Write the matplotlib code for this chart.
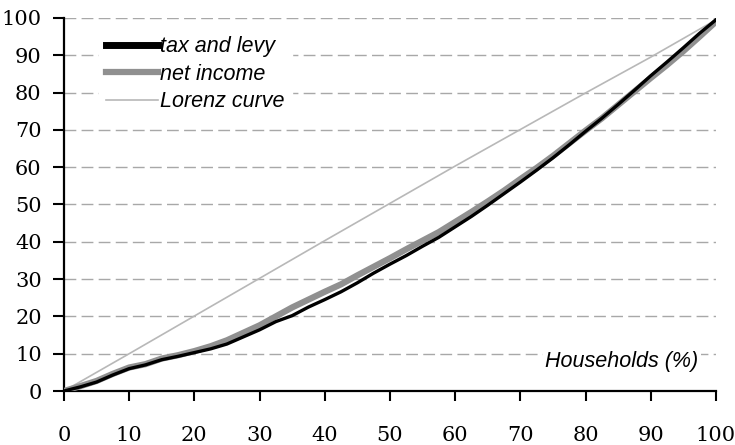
import numpy as np
import matplotlib.pyplot as plt

# households share (%)
x = [0, 2.5, 5, 7.5, 10, 12.5, 15, 17.5, 20, 22.5, 25, 27.5, 30, 32.5, 35, 37.5,
     40, 42.5, 45, 47.5, 50, 52.5, 55, 57.5, 60, 62.5, 65, 67.5, 70, 72.5, 75,
     77.5, 80, 82.5, 85, 87.5, 90, 92.5, 95, 97.5, 100]

# cumulative share of net income
net_income = [0, 1.3, 2.7, 4.6, 6.3, 7.2, 8.7, 9.6, 10.7, 12.0, 13.6, 15.6, 17.6,
              20.0, 22.4, 24.5, 26.6, 28.6, 31.0, 33.3, 35.6, 38.0, 40.3, 42.6,
              45.3, 48.0, 50.8, 53.7, 56.8, 59.8, 63.0, 66.4, 69.8, 73.1, 76.7,
              80.3, 83.9, 87.4, 91.1, 95.0, 99.0]

# cumulative share of tax and levy
tax_levy = [0, 1.1, 2.4, 4.3, 6.0, 7.0, 8.4, 9.3, 10.3, 11.3, 12.6, 14.5, 16.4,
            18.6, 20.2, 22.5, 24.5, 26.6, 29.0, 31.6, 34.0, 36.3, 38.8, 41.2,
            44.0, 46.8, 49.8, 52.9, 56.0, 59.2, 62.5, 66.0, 69.6, 73.1, 76.8,
            80.6, 84.5, 88.2, 92.0, 95.9, 99.5]

# line of equality
lorenz_x = [0, 10, 20, 30, 40, 50, 60, 70, 80, 90, 100]
lorenz_y = [0, 10, 20.1, 30.2, 40.3, 50.3, 60.3, 70.1, 79.9, 89.5, 99.5]

fig = plt.figure(figsize=(7.35, 4.45), dpi=100)
ax = fig.add_axes([0.087, 0.1213, 0.887, 0.8383])

for yv in range(10, 101, 10):
    ax.axhline(yv, color='#a8a8a8', lw=1.0, ls=(0, (8.5, 3.8)), zorder=1)

ax.plot(lorenz_x, lorenz_y, color='#b8b8b8', lw=1.2, label='Lorenz curve', zorder=2)
ax.plot(x, net_income, color='#909090', lw=4.5, label='net income', zorder=3)
ax.plot(x, tax_levy, color='black', lw=2.4, label='tax and levy', zorder=4)

ax.set_xlim(0, 100)
ax.set_ylim(0, 100)
ax.set_xticks(range(0, 101, 10))
ax.set_yticks(range(0, 101, 10))

for s in ['top', 'right']:
    ax.spines[s].set_visible(False)
for s in ['left', 'bottom']:
    ax.spines[s].set_linewidth(1.6)

ax.tick_params(axis='x', direction='out', length=7, width=1.5, pad=18)
ax.tick_params(axis='y', direction='out', length=8, width=1.5, pad=8)
for lab in ax.get_xticklabels() + ax.get_yticklabels():
    lab.set_fontfamily('DejaVu Serif')
    lab.set_fontsize(15)

handles, labels = ax.get_legend_handles_labels()
order = [2, 1, 0]
leg = ax.legend([handles[i] for i in order], [labels[i] for i in order],
                loc='upper left', bbox_to_anchor=(0.037, 1.0), frameon=True,
                handlelength=2.4, handletextpad=0.1, labelspacing=0.3,
                borderpad=0.35, prop={'family': 'Liberation Sans', 'style': 'italic', 'size': 15.5})
leg.get_frame().set_facecolor('white')
leg.get_frame().set_edgecolor('white')
leg.get_frame().set_alpha(1)
leg.get_lines()[0].set_linewidth(5)

ax.text(85.6, 7.8, 'Households (%)', fontfamily='Liberation Sans', style='italic',
        fontsize=15.5, ha='center', va='center',
        bbox=dict(facecolor='white', edgecolor='none', pad=2))

fig.savefig('out.png', dpi=100)
